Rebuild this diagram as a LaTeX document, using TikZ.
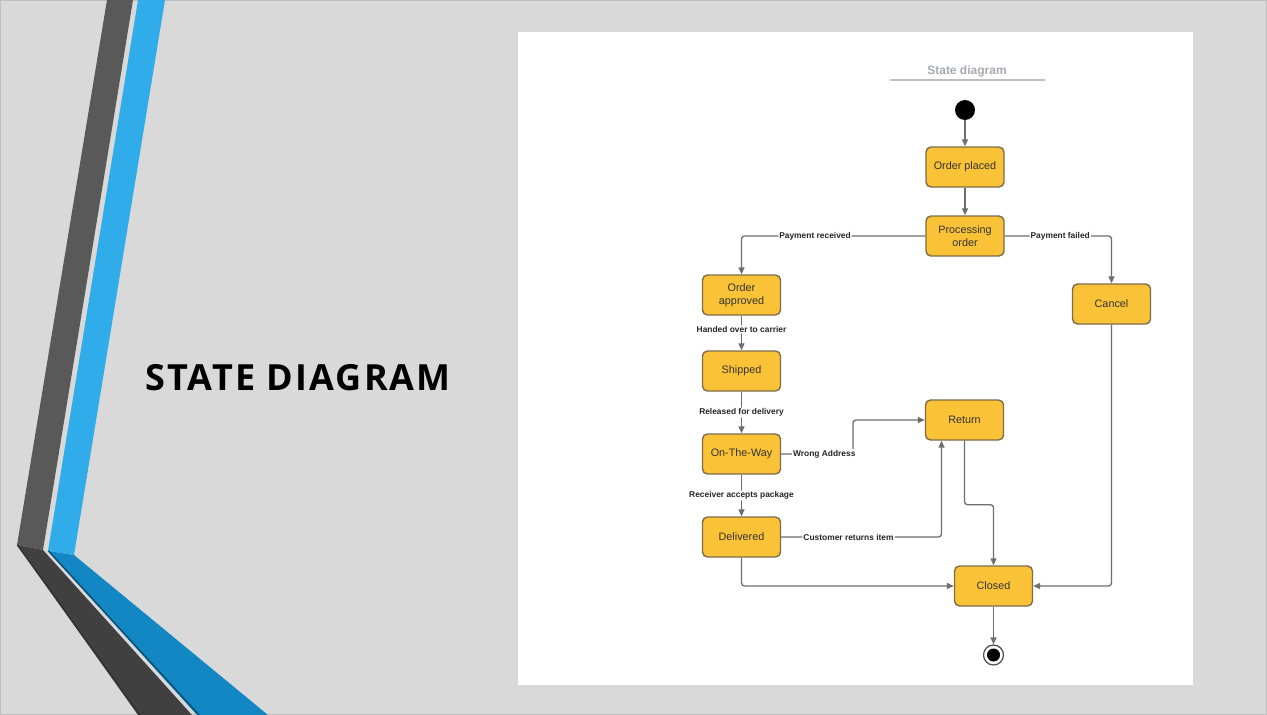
\documentclass[tikz,border=0pt]{standalone}
\usepackage{fontspec}
\setmainfont{Liberation Sans}
\newfontfamily\slidefont[LetterSpace=6]{Open Sans}
\usetikzlibrary{arrows.meta,positioning}
\definecolor{slidebg}{HTML}{D9D9D9}
\definecolor{stripedark}{HTML}{595959}
\definecolor{stripedarklow}{HTML}{404040}
\definecolor{stripeblue}{HTML}{30ACEB}
\definecolor{stripebluelow}{HTML}{1287C4}
\definecolor{statefill}{HTML}{FAC236}
\definecolor{stateline}{HTML}{7D6C4C}
\definecolor{flowgray}{HTML}{6E6E6E}
\definecolor{titlegray}{HTML}{A7AAB1}
\tikzset{
  state/.style={draw=stateline, fill=statefill, line width=1.4pt,
    rounded corners=5pt, minimum width=78pt, minimum height=40pt,
    align=center, text=black!80, inner sep=2pt,
    font=\fontsize{10.8}{12.8}\selectfont},
  flow/.style={draw=flowgray, line width=1.3pt, rounded corners=3pt,
    -{Triangle[length=7pt,width=6pt]}},
  elabel/.style={fill=white, inner sep=1pt, text=black!85,
    font=\bfseries\fontsize{8.4}{10}\selectfont}
}
\begin{document}
\begin{tikzpicture}[x=1pt,y=-1pt]
% slide background
\fill[slidebg] (0,0) rectangle (1267,715);
\useasboundingbox (0,0) rectangle (1267,715);
\draw[black!25, line width=1pt] (0.5,0.5) rectangle (1266.5,714.5);
% stripes
\fill[stripedark] (107,0) -- (133,0) -- (43,550) -- (17,545) -- cycle;
\fill[stripeblue] (138,0) -- (165,0) -- (74,555) -- (48,551) -- cycle;
\fill[stripedarklow] (17,545) -- (43,550) -- (192,715) -- (138,715) -- cycle;
\draw[black!80, line width=1.5pt] (17.5,545) -- (140,715);
\fill[stripebluelow] (48,551) -- (74,555) -- (268,715) -- (197,715) -- cycle;
\draw[stripebluelow!60!black, line width=1.5pt] (48.5,551) -- (199,715);
% slide title
\node[font=\slidefont\bfseries\fontsize{36}{40}\selectfont] (slidetitle) at (298,378) {STATE DIAGRAM};
% white panel
\fill[white] (518,32) rectangle (1193,685);
% diagram title
\node[text=titlegray, font=\bfseries\fontsize{12}{14}\selectfont] (dtitle) at (967,71) {State diagram};
\draw[black!25, line width=1.3pt] (890,80) -- (1045,80);
% states
\node[circle, fill=black, minimum size=20pt, inner sep=0pt] (start) at (965,110) {};
\node[state] (placed) at (965,167) {Order placed};
\node[state] (proc) at (965,236) {Processing\\order};
\node[state] (appr) at (741.5,295) {Order\\approved};
\node[state] (ship) at (741.5,371) {Shipped};
\node[state] (otw) at (741.5,454) {On-The-Way};
\node[state] (deliv) at (741.5,537) {Delivered};
\node[state] (cancel) at (1111.5,304) {Cancel};
\node[state] (ret) at (964.5,420) {Return};
\node[state] (closed) at (993.5,586) {Closed};
\node[circle, draw=black!70, line width=1.2pt, fill=white, minimum size=20pt, inner sep=0pt] (finish) at (993.5,655) {};
\fill[black] (finish.center) circle[radius=6.5];
% helper points
\coordinate (wa) at (853,454);
% transitions
\draw[flow] (start) -- (placed);
\draw[flow] (placed) -- (proc);
\draw[flow] (proc.west) -| node[elabel, pos=0.3] {Payment received} (appr.north);
\draw[flow] (proc.east) -| node[elabel, pos=0.26] {Payment failed} (cancel.north);
\draw[flow] (appr) -- node[elabel, pos=0.4] {Handed over to carrier} (ship);
\draw[flow] (ship) -- node[elabel, pos=0.5] {Released for delivery} (otw);
\draw[flow] (otw) -- node[elabel, pos=0.5] {Receiver accepts package} (deliv);
\draw[flow] (otw.east) -- node[elabel, pos=0.6] {Wrong Address} (wa) |- (ret.west);
\draw[flow] (deliv.east) -| node[elabel, pos=0.21] {Customer returns item} ([xshift=-23pt]ret.south);
\draw[flow] (ret.south) -- ++(0,64) -| (closed.north);
\draw[flow] (deliv.south) |- (closed.west);
\draw[flow] (cancel.south) |- (closed.east);
\draw[flow] (closed) -- (finish);
\end{tikzpicture}
\end{document}
